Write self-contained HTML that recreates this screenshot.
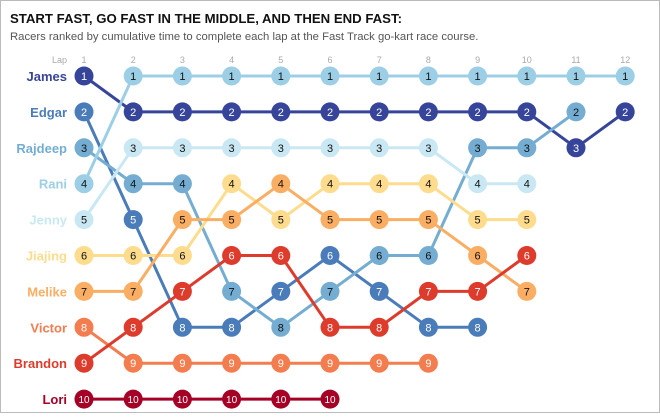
<!DOCTYPE html>
<html><head><meta charset="utf-8"><style>
body{margin:0;background:#fff;font-family:"Liberation Sans",sans-serif}
#wrap{position:relative;width:658px;height:411px;border:1px solid #bbb;background:#fff}
</style></head><body>
<div id="wrap">
<svg id="chart" width="658" height="411">
<text x="9" y="22" font-size="13.2" font-weight="bold" fill="#111">START FAST, GO FAST IN THE MIDDLE, AND THEN END FAST:</text>
<text x="9" y="39" font-size="11.3" fill="#555">Racers ranked by cumulative time to complete each lap at the Fast Track go-kart race course.</text>
<text x="66" y="62" font-size="9" fill="#aaa" text-anchor="end">Lap</text>
<g id="axis"></g><g id="lines"></g><g id="dots"></g><g id="names"></g>
</svg>
</div>
<script>
const laps=[1,2,3,4,5,6,7,8,9,10,11,12];
const racers=["James","Edgar","Rajdeep","Rani","Jenny","Jiajing","Melike","Victor","Brandon","Lori"];
const colors=["#36459a","#4a7cb9","#74add1","#9ccfe6","#c9e8f3","#fddc8e","#f9ae63","#f37d4f","#dd3b2c","#a50026"];
const textColors=["#fff","#fff","#111","#111","#111","#111","#111","#fff","#fff","#fff"];
const rJames=[1,2,2,2,2,2,2,2,2,2,3,2];
const rEdgar=[2,5,8,8,7,6,7,8,8];
const rRajdeep=[3,4,4,7,8,7,6,6,3,3,2];
const rRani=[4,1,1,1,1,1,1,1,1,1,1,1];
const rJenny=[5,3,3,3,3,3,3,3,4,4];
const rJiajing=[6,6,6,4,5,4,4,4,5,5];
const rMelike=[7,7,5,5,4,5,5,5,6,7];
const rVictor=[8,9,9,9,9,9,9,9];
const rBrandon=[9,8,7,6,6,8,8,7,7,6];
const rLori=[10,10,10,10,10,10];
const ranks=[rJames,rEdgar,rRajdeep,rRani,rJenny,rJiajing,rMelike,rVictor,rBrandon,rLori];
const x=l=>83+(l-1)*49.2;
const y=r=>75+(r-1)*35.9;
const NS="http://www.w3.org/2000/svg";
function mk(tag,parent,attrs){const e=document.createElementNS(NS,tag);for(const k in attrs)e.setAttribute(k,attrs[k]);parent.appendChild(e);return e;}
const gA=document.getElementById('axis'),gL=document.getElementById('lines'),gD=document.getElementById('dots'),gN=document.getElementById('names');
laps.forEach(l=>{const t=mk('text',gA,{x:x(l),y:62,'font-size':9,fill:'#aaa','text-anchor':'middle'});t.textContent=l;

});
racers.forEach((n,i)=>{const rs=ranks[i];
const t=mk('text',gN,{x:66,y:y(i+1)+5,'font-size':13,'font-weight':'bold',fill:colors[i],'text-anchor':'end'});t.textContent=n;


const p=mk('polyline',gL,{points:rs.map((r,j)=>x(laps[j])+','+y(r)).join(' '),fill:'none',stroke:colors[i],'stroke-width':3});


rs.forEach((r,j)=>{const g=mk('g',gD,{});


mk('circle',g,{cx:x(laps[j]),cy:y(r),r:9.5,fill:colors[i]});
const tt=mk('text',g,{x:x(laps[j]),y:y(r)+4,'font-size':r==10?10:11,fill:textColors[i],'text-anchor':'middle'});tt.textContent=r;});
});
</script>
</body></html>
